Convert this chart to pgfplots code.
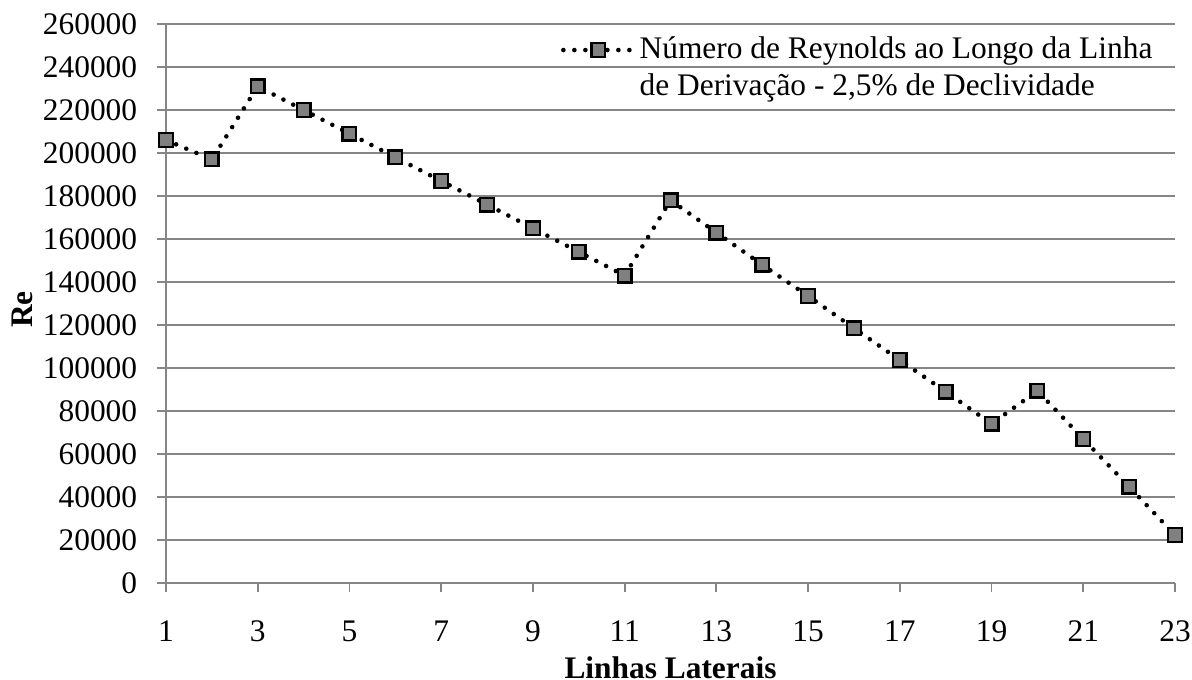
\documentclass[border=0pt]{standalone}
\usepackage{fontspec}
\setmainfont{Liberation Serif}
\usepackage{pgfplots}
\pgfplotsset{compat=1.18}
\definecolor{gridgray}{RGB}{134,134,134}
\definecolor{markgray}{RGB}{128,128,128}

\begin{document}
\fontsize{15.7pt}{18.5pt}\selectfont
\begin{tikzpicture}
\begin{axis}[scale only axis,width=504.5pt,height=279.5pt,
  xmin=1,xmax=23,ymin=0,ymax=260000,
  xtick={1,3,...,23},xticklabels={1,3,5,7,9,11,13,15,17,19,21,23},
  ytick={0,20000,...,260000},
  yticklabels={0,20000,40000,60000,80000,100000,120000,140000,160000,180000,200000,220000,240000,260000},
  scaled y ticks=false,
  axis x line=bottom,axis y line=left,axis line style={gridgray,line width=0.9pt,-},
  tick align=outside,major tick length=4.5pt,tick style={gridgray,line width=0.9pt},
  ymajorgrids,grid style={gridgray,line width=0.9pt},
  tick label style={font=\fontsize{15.7pt}{18.5pt}\selectfont},
  xticklabel style={yshift=-9pt},yticklabel style={xshift=-4.5pt},
  xlabel={\textbf{Linhas Laterais}},ylabel={\textbf{Re}},
  label style={font=\fontsize{15.7pt}{18.5pt}\selectfont},
  xlabel style={inner sep=0.5pt,yshift=-1.5pt},ylabel style={yshift=-5.5pt,xshift=-3pt},
  legend style={at={(0.982,0.985)},anchor=north east,draw=none,fill=none,
    cells={align=left},font=\fontsize{15.7pt}{18.5pt}\selectfont,inner sep=0pt},
  legend image code/.code={\draw[mark repeat=2,mark phase=2,#1]
    plot coordinates {(0cm,9.25pt) (0.615cm,9.25pt) (1.23cm,9.25pt)};}]
\addplot[black,line width=2.3pt,line cap=round,dash pattern=on 0pt off 5.5pt,
  mark=square*,mark size=3.4pt,
  mark options={solid,fill=markgray,draw=black,line width=1.2pt}] coordinates {
 (1,206000)(2,197000)(3,231000)(4,220000)(5,209000)(6,198000)(7,187000)(8,176000)
 (9,165000)(10,154000)(11,143000)(12,178000)(13,163000)(14,148000)(15,133500)
 (16,118500)(17,103700)(18,89000)(19,74000)(20,89400)(21,67000)(22,44800)(23,22300)};
\addlegendentry{Número de Reynolds ao Longo da Linha\\de Derivação - 2,5\% de Declividade}
\end{axis}
\pgfresetboundingbox
\path[use as bounding box] (-83pt,-48pt) rectangle (513pt,291.5pt);
\end{tikzpicture}
\end{document}
